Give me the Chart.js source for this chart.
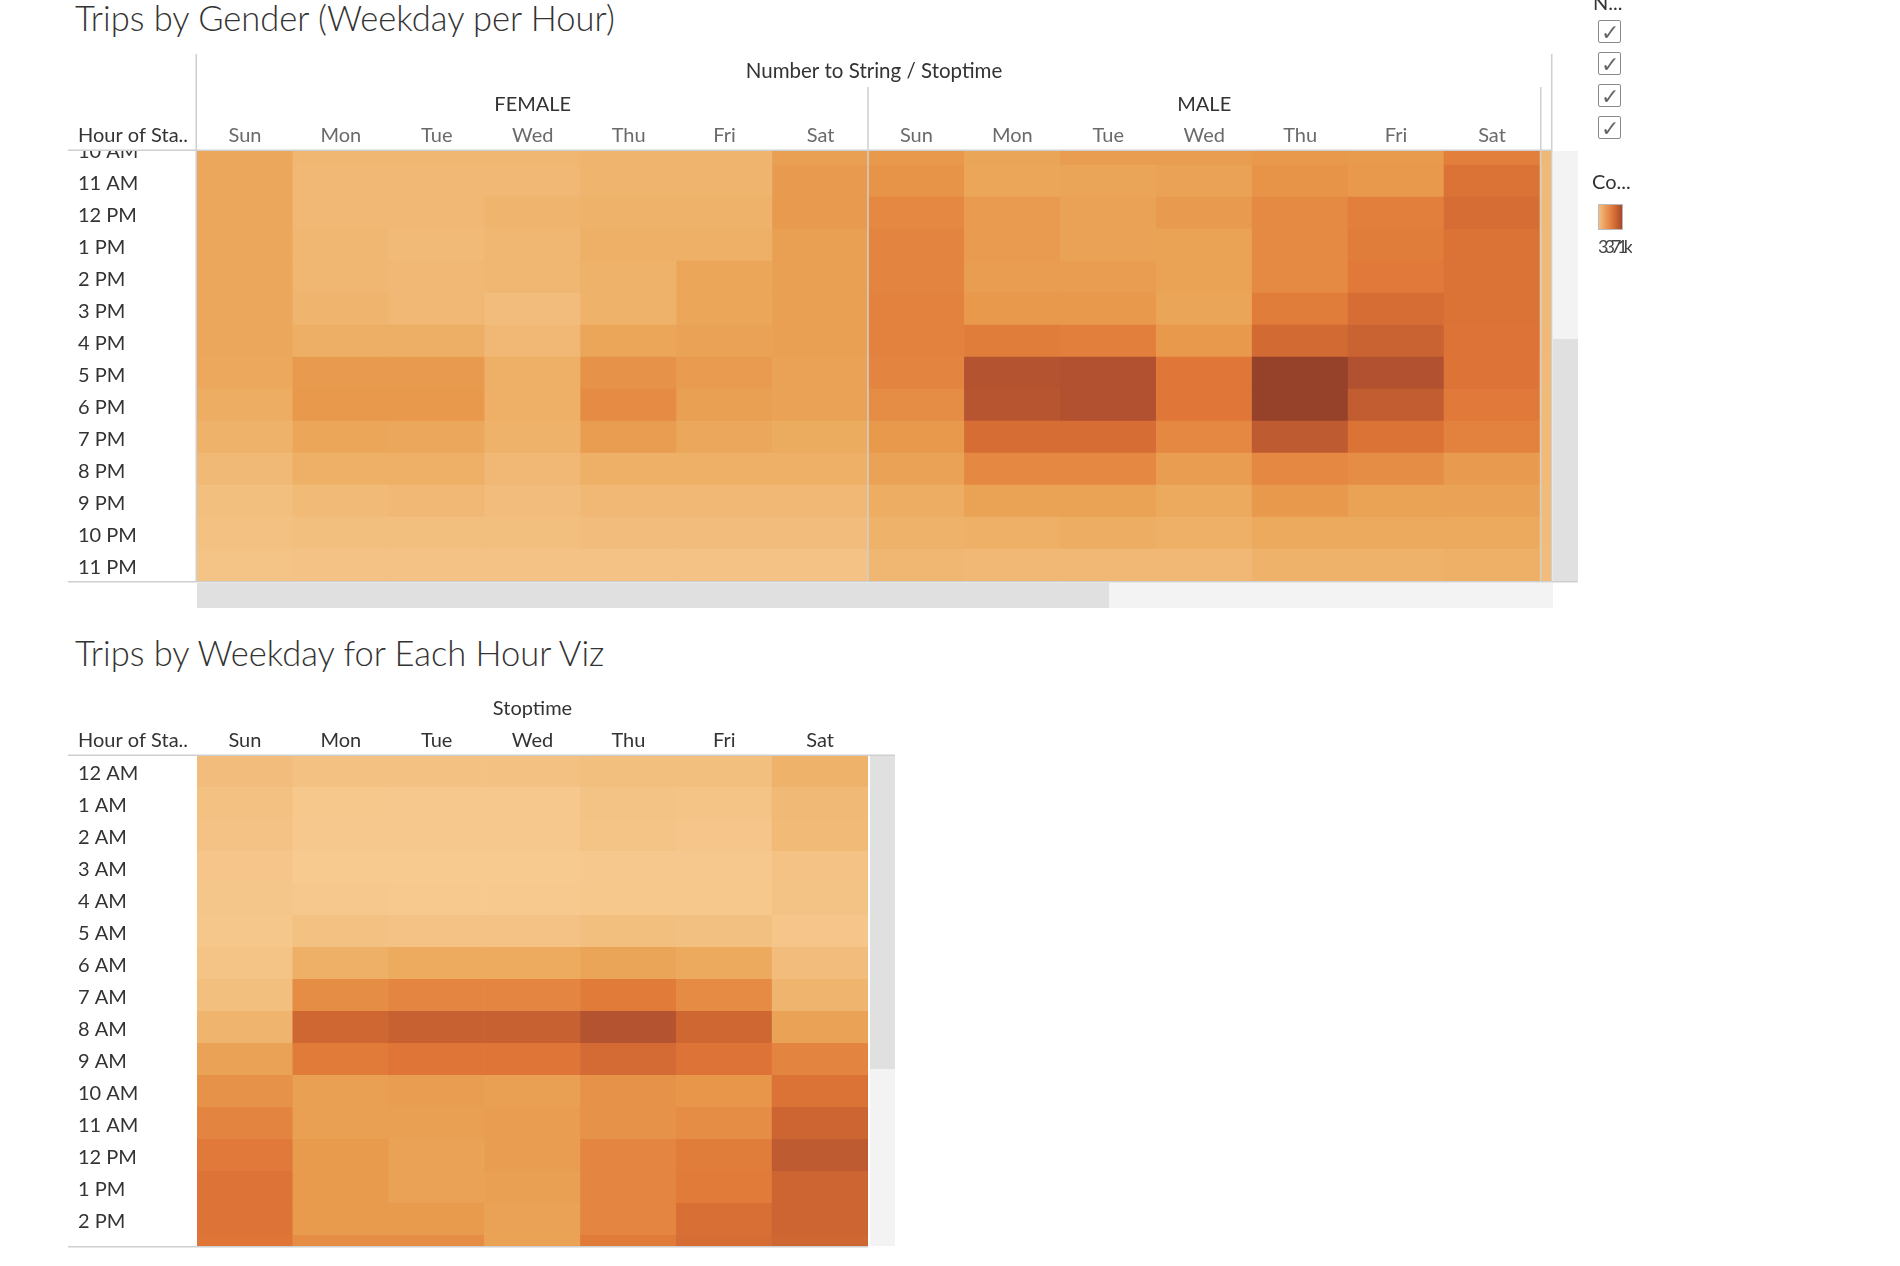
<!DOCTYPE html>
<html><head><meta charset="utf-8">
<script src="https://cdn.jsdelivr.net/npm/chart.js@4.4.1/dist/chart.umd.min.js"></script>
<style>
html,body{margin:0;padding:0;background:#fff;width:1900px;height:1266px;overflow:hidden;font-family:Lato,'Noto Sans',sans-serif;}
.title{position:absolute;left:75px;font-size:34.5px;font-weight:300;color:#333;line-height:40px;white-space:nowrap;}
.bar{position:absolute;}
.lbl{position:absolute;font-size:20px;color:#333;line-height:24px;white-space:nowrap;}
.cb{position:absolute;left:1598px;width:21px;height:21px;border:1.5px solid #8a8a8a;border-radius:2px;color:#666;font-size:22px;line-height:22px;text-align:center;}
</style></head><body>
<div class="title" style="top:-2px">Trips by Gender (Weekday per Hour)</div>
<canvas id="c1" width="1600" height="620" style="position:absolute;left:0;top:0"></canvas>
<div class="bar" style="left:1553px;top:151px;width:25px;height:430px;background:#f3f3f3"></div>
<div class="bar" style="left:1553px;top:339px;width:25px;height:242px;background:#e0e0e0"></div>
<div class="bar" style="left:197px;top:583px;width:1356px;height:25px;background:#f3f3f3"></div>
<div class="bar" style="left:197px;top:583px;width:912px;height:25px;background:#e0e0e0"></div>

<div class="title" style="top:633px">Trips by Weekday for Each Hour Viz</div>
<canvas id="c2" width="910" height="646" style="position:absolute;left:0;top:620px"></canvas>
<div class="bar" style="left:870px;top:756px;width:25px;height:490px;background:#f3f3f3"></div>
<div class="bar" style="left:870px;top:756px;width:25px;height:313px;background:#e0e0e0"></div>

<div class="lbl" style="left:1593px;top:-10px">N...</div>
<div class="cb" style="top:20px">&#10003;</div>
<div class="cb" style="top:52px">&#10003;</div>
<div class="cb" style="top:84px">&#10003;</div>
<div class="cb" style="top:116px">&#10003;</div>
<div class="lbl" style="left:1592px;top:169px">Co...</div>
<div class="bar" style="left:1598px;top:204px;width:23px;height:24px;border:1px solid #bbb;background:linear-gradient(to right,#f4be7e,#e07a3b 55%,#a9482b)"></div>
<div class="lbl" style="left:1598px;top:234px;font-size:18px;letter-spacing:-4px;color:#444;width:34px;overflow:hidden">3371k</div>

<script>
const days = ['Sun','Mon','Tue','Wed','Thu','Fri','Sat'];
const genders = ['FEMALE','MALE'];
const hourLabels = ['12 AM','1 AM','2 AM','3 AM','4 AM','5 AM','6 AM','7 AM','8 AM','9 AM','10 AM','11 AM',
                    '12 PM','1 PM','2 PM','3 PM','4 PM','5 PM','6 PM','7 PM','8 PM','9 PM','10 PM','11 PM'];
// Top chart rows: hours 10..23 (10 AM .. 11 PM), values = relative trip intensity
const topHours = [10,11,12,13,14,15,16,17,18,19,20,21,22,23];
const femaleTrips = [
  [36,36,36,36,36,36,36,35,30,26,19,13,11,8],   // Sun
  [21,20,20,21,21,23,29,48,50,37,28,18,13,10],  // Mon
  [21,20,20,18,20,20,29,48,50,36,28,20,13,10],  // Tue
  [21,20,23,21,21,15,20,28,28,26,20,15,13,10],  // Wed
  [24,24,26,28,26,26,37,54,58,46,28,20,15,10],  // Thu
  [24,24,26,28,37,37,40,47,43,36,28,20,15,10],  // Fri
  [43,48,48,43,43,43,43,40,40,32,28,20,15,10]   // Sat
];
const maleTrips = [
  [50,53,60,62,62,63,63,62,57,50,40,30,26,21],  // Sun
  [38,37,47,47,46,50,66,89,88,75,60,41,28,20],  // Mon
  [46,38,40,40,46,50,65,90,90,75,60,41,30,20],  // Tue
  [46,40,48,41,41,38,50,69,69,60,46,34,28,20],  // Wed
  [50,53,59,59,59,66,77,99,99,85,60,50,34,26],  // Thu
  [49,50,65,66,68,75,81,90,84,72,57,41,34,26],  // Fri
  [65,72,75,72,72,72,71,71,68,63,48,40,34,28]   // Sat
];
const otherTrips = [20,19,19,19,19,19,19,18,18,18,18,17,16,15];
// Bottom chart rows: hours 0..15 (12 AM .. 3 PM)
const bottomHours = [0,1,2,3,4,5,6,7,8,9,10,11,12,13,14,15];
const weekdayTrips = [
  [15,11,10,6,5,4,8,13,24,40,54,62,68,71,71,70],   // Sun
  [11,3,2,0,2,11,28,57,79,67,43,43,49,49,49,57],   // Mon
  [11,2,2,0,1,10,33,61,82,70,46,43,40,40,49,57],   // Tue
  [11,2,2,0,1,10,33,61,82,70,43,46,46,43,40,41],   // Wed
  [13,9,8,2,3,13,38,67,89,76,54,54,61,61,61,67],   // Thu
  [13,8,6,2,3,12,34,58,79,71,52,57,66,67,74,75],   // Fri
  [26,19,18,10,9,6,15,24,40,62,72,80,85,80,80,79]  // Sat
];

const rampStops = [[0,'#F7CA90'],[10,'#F3C284'],[20,'#F0B874'],[30,'#EDAE63'],[40,'#EAA356'],[50,'#E8994C'],
  [60,'#E48842'],[70,'#DF7537'],[80,'#CD6532'],[90,'#B1512F'],[100,'#93402B']];
function hex(h){return [1,3,5].map(i=>parseInt(h.substr(i,2),16));}
function colorFor(v){
  for(let i=1;i<rampStops.length;i++){
    const [v1,c1]=rampStops[i];const [v0,c0]=rampStops[i-1];
    if(v<=v1||i===rampStops.length-1){
      const t=Math.max(0,Math.min(1,(v-v0)/(v1-v0)));
      const a=hex(c0),b=hex(c1);
      return 'rgb('+a.map((x,k)=>Math.round(x+(b[k]-x)*t)).join(',')+')';
    }
  }
}

Chart.defaults.font.family = "Lato, 'Noto Sans', sans-serif";
Chart.defaults.font.size = 20;
Chart.defaults.color = '#333';

function line(ctx,x1,y1,x2,y2){ctx.beginPath();ctx.moveTo(x1,y1);ctx.lineTo(x2,y2);ctx.stroke();}

// ---------- top chart ----------
const topCells = [];
[femaleTrips, maleTrips].forEach((arr,gi)=>arr.forEach((vals,di)=>{
  topHours.forEach((h,hi)=>topCells.push({x:gi*7+di, y:[h-0.5,h+0.5], v:vals[hi]}));
}));
topHours.forEach((h,hi)=>topCells.push({x:14, y:[h-0.5,h+0.5], v:otherTrips[hi]}));

const deco1 = {
  id:'deco1',
  afterDraw(chart){
    const {ctx, chartArea:a, scales} = chart;
    ctx.save();
    ctx.fillStyle='#fff';
    ctx.fillRect(0, a.top-14, a.left-1, 14);
    ctx.fillStyle='#333'; ctx.font="20px Lato, 'Noto Sans', sans-serif"; ctx.textBaseline='middle'; ctx.textAlign='left';
    ctx.fillText('Hour of Sta..', 78, scales.x.bottom-15);
    ctx.strokeStyle='#cfcfcf'; ctx.lineWidth=1.5;
    const L=Math.round(a.left)-0.75, R=Math.round(a.right)+0.75, T=Math.round(a.top)-0.75, B=Math.round(a.bottom)+0.75;
    const gTop = Math.round(scales.xg.top);
    line(ctx,L,gTop,L,B);
    line(ctx,R,gTop,R,B);
    const xd=Math.round(scales.x.getPixelForValue(6.5));
    const xe=Math.round(scales.x.getPixelForValue(13.5))+0.75;
    line(ctx,xd,gTop+33,xd,B);
    line(ctx,xe,gTop+33,xe,B);
    line(ctx,68,T,R,T);
    line(ctx,68,B,R+26,B);
    ctx.restore();
  }
};

new Chart(document.getElementById('c1'), {
  type:'bar',
  data:{datasets:[{data:topCells, backgroundColor:c=>colorFor(c.raw.v), borderWidth:0,
    categoryPercentage:1, barPercentage:1}]},
  options:{
    responsive:false, animation:false, events:[],
    layout:{padding:{left:78, top:54, right:49, bottom:39}},
    plugins:{legend:{display:false}, tooltip:{enabled:false}},
    scales:{
      x:{type:'linear', position:'top', min:-0.5, max:13.615, weight:0, offset:false,
        grid:{display:false, drawTicks:false, offset:false}, border:{display:false},
        ticks:{color:'#6a6a6a', padding:3, autoSkip:false, maxRotation:0, callback:v=>days[v%7]},
        afterBuildTicks:s=>{s.ticks=[0,1,2,3,4,5,6,7,8,9,10,11,12,13].map(v=>({value:v}));},
        afterFit:s=>{s.height=33; s.paddingLeft=0; s.paddingRight=0;}},
      xg:{type:'linear', position:'top', min:-0.5, max:13.615, weight:1, offset:false,
        grid:{display:false, drawTicks:false, offset:false}, border:{display:false},
        ticks:{color:'#333', padding:1, autoSkip:false, maxRotation:0, callback:v=>genders[v<7?0:1]},
        afterBuildTicks:s=>{s.ticks=[{value:3},{value:10}];},
        title:{display:true, text:'Number to String / Stoptime', color:'#333', font:{size:20.5}, padding:{top:5.5,bottom:0}},
        afterFit:s=>{s.height=64; s.paddingLeft=0; s.paddingRight=0;}},
      y:{type:'linear', position:'left', reverse:true, min:10.06, max:23.5, offset:false,
        grid:{display:false, drawTicks:false}, border:{display:false},
        ticks:{color:'#333', crossAlign:'far', padding:0, labelOffset:2.5, autoSkip:false, callback:v=>hourLabels[v]},
        afterBuildTicks:s=>{s.ticks=topHours.map(v=>({value:v}));},
        afterFit:s=>{s.width=119; s.paddingTop=0; s.paddingBottom=0;}}
    }
  },
  plugins:[deco1]
});

// ---------- bottom chart ----------
const bottomCells = [];
weekdayTrips.forEach((vals,di)=>bottomHours.forEach((h,hi)=>bottomCells.push({x:di, y:[h-0.5,h+0.5], v:vals[hi]})));

const deco2 = {
  id:'deco2',
  afterDraw(chart){
    const {ctx, chartArea:a, scales} = chart;
    ctx.save();
    ctx.fillStyle='#333'; ctx.font="20px Lato, 'Noto Sans', sans-serif"; ctx.textBaseline='middle'; ctx.textAlign='left';
    ctx.fillText('Hour of Sta..', 78, scales.x.bottom-15);
    ctx.strokeStyle='#cfcfcf'; ctx.lineWidth=1.5;
    const R=Math.round(a.right), T=Math.round(a.top)-0.75, B=Math.round(a.bottom)+0.75;
    line(ctx,68,T,R+27,T);
    line(ctx,68,B,R,B);
    ctx.restore();
  }
};

new Chart(document.getElementById('c2'), {
  type:'bar',
  data:{datasets:[{data:bottomCells, backgroundColor:c=>colorFor(c.raw.v), borderWidth:0,
    categoryPercentage:1, barPercentage:1}]},
  options:{
    responsive:false, animation:false, events:[],
    layout:{padding:{left:78, top:70, right:42, bottom:20}},
    plugins:{legend:{display:false}, tooltip:{enabled:false}},
    scales:{
      x:{type:'linear', position:'top', min:-0.5, max:6.5, offset:false,
        grid:{display:false, drawTicks:false, offset:false}, border:{display:false},
        ticks:{color:'#333', padding:3, autoSkip:false, maxRotation:0, callback:v=>days[v]},
        afterBuildTicks:s=>{s.ticks=[0,1,2,3,4,5,6].map(v=>({value:v}));},
        title:{display:true, text:'Stoptime', color:'#333', padding:{top:7,bottom:0}},
        afterFit:s=>{s.height=66; s.paddingLeft=0; s.paddingRight=0;}},
      y:{type:'linear', position:'left', reverse:true, min:-0.48, max:14.83, offset:false,
        grid:{display:false, drawTicks:false}, border:{display:false},
        ticks:{color:'#333', crossAlign:'far', padding:0, labelOffset:2, autoSkip:false, callback:v=>hourLabels[v]},
        afterBuildTicks:s=>{s.ticks=bottomHours.slice(0,15).map(v=>({value:v}));},
        afterFit:s=>{s.width=119; s.paddingTop=0; s.paddingBottom=0;}}
    }
  },
  plugins:[deco2]
});
</script>
</body></html>
